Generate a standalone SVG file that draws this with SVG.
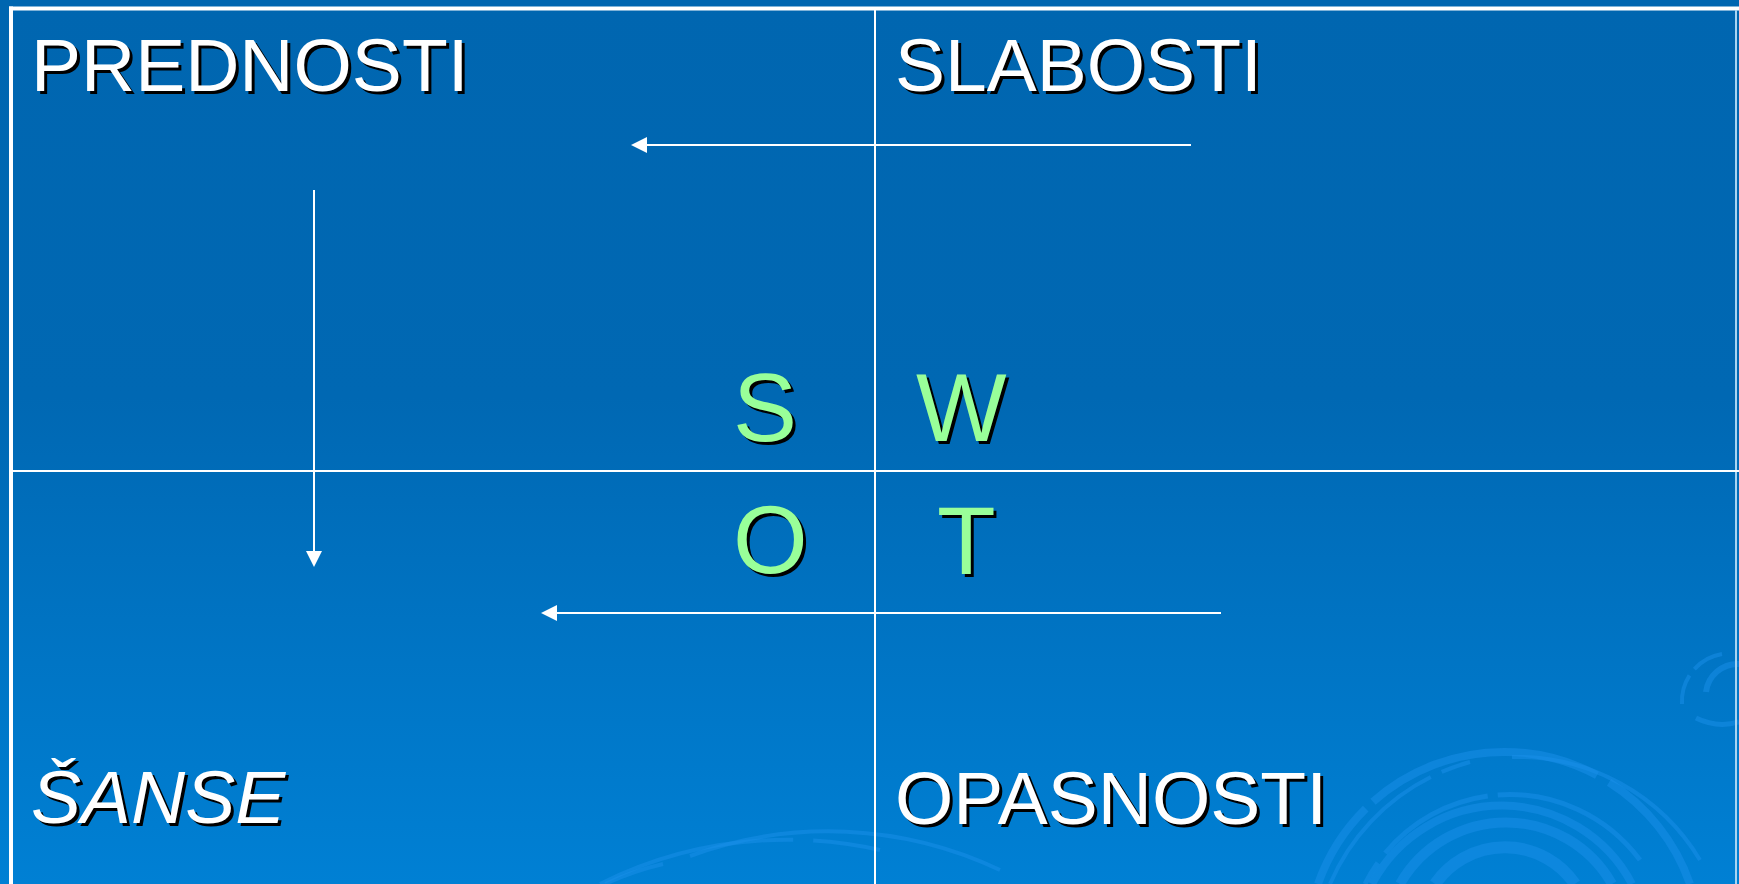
<svg xmlns="http://www.w3.org/2000/svg" width="1739" height="884" viewBox="0 0 1739 884">
  <defs>
    <linearGradient id="bg" x1="0" y1="0" x2="0" y2="1">
      <stop offset="0" stop-color="#0066B0"/>
      <stop offset="0.45" stop-color="#0068B3"/>
      <stop offset="1" stop-color="#0080D4"/>
    </linearGradient>
    <marker id="ah" viewBox="0 0 16 16" refX="0" refY="8" markerWidth="16" markerHeight="16" markerUnits="userSpaceOnUse" orient="auto">
      <path d="M0,0 L16,8 L0,16 z" fill="#FFFFFF"/>
    </marker>
    <style>
      .lbl { font-family: "Liberation Sans", Arial, sans-serif; font-size: 75px; }
      .big { font-family: "Liberation Sans", Arial, sans-serif; font-size: 96px; }
      .sh { fill: #000000; }
      .wt { fill: #FFFFFF; }
      .gr { fill: #99FF99; }
      .grid { stroke: #FFFFFF; stroke-width: 2; fill: none; }
      .conn { stroke: #FFFFFF; stroke-width: 2; fill: none; }
      .swirl { stroke: #1A8FEA; fill: none; stroke-linecap: butt; opacity: 0.5; }
    </style>
  </defs>

  <rect x="0" y="0" width="1739" height="884" fill="url(#bg)"/>

  <!-- background swirls -->
  <g id="swirls">
    <path class="swirl" stroke-width="4" d="M1330,884 A213,213 0 0 1 1470,762" stroke-dasharray="150 12 400"/>
    <path class="swirl" stroke-width="4" d="M1512,757 A213,213 0 0 1 1700,860"/>
    <path class="swirl" stroke-width="8" d="M1318,884 A197,197 0 0 1 1690,884" stroke-dasharray="90 10 240 14 400"/>
    <path class="swirl" stroke-width="5" d="M1365,884 A162,162 0 0 1 1640,860" stroke-dasharray="25 12 120 10 300"/>
    <path class="swirl" stroke-width="8" d="M1372,884 A147,147 0 0 1 1632,884"/>
    <path class="swirl" stroke-width="10" d="M1400,884 A122,122 0 0 1 1612,884"/>
    <path class="swirl" stroke-width="12" d="M1435,884 A85,85 0 0 1 1575,884"/>
    <path class="swirl" stroke-width="4" d="M1682,704 A48,48 0 0 1 1722,654" stroke-dasharray="30 8 60"/>
    <path class="swirl" stroke-width="6" d="M1706,692 A32,32 0 0 1 1739,664"/>
    <path class="swirl" stroke-width="5" d="M1696,718 A60,60 0 0 0 1739,722"/>
    <path class="swirl" stroke-width="4" d="M600,884 A420,420 0 0 1 880,850" stroke-dasharray="200 20 200"/>
    <path class="swirl" stroke-width="4" d="M690,856 A400,400 0 0 1 1000,870"/>
    <path class="swirl" stroke-width="4" d="M605,884 A300,300 0 0 1 663,864"/>
  </g>

  <!-- table grid -->
  <g id="table">
    <line x1="9" y1="8.5" x2="1739" y2="8.5" stroke="#FFFFFF" stroke-width="4"/>
    <line x1="11" y1="6.5" x2="11" y2="884" stroke="#FFFFFF" stroke-width="4"/>
    <line x1="1736" y1="10" x2="1736" y2="884" stroke="#A8D4F2" stroke-width="2"/>
    <line class="grid" x1="875" y1="10" x2="875" y2="884"/>
    <line class="grid" x1="13" y1="471" x2="1739" y2="471"/>
  </g>

  <!-- connectors -->
  <g id="connectors">
    <line class="conn" x1="1191" y1="145" x2="647" y2="145" marker-end="url(#ah)"/>
    <line class="conn" x1="314" y1="190" x2="314" y2="551" marker-end="url(#ah)"/>
    <line class="conn" x1="1221" y1="613" x2="557" y2="613" marker-end="url(#ah)"/>
  </g>

  <!-- quadrant labels -->
  <g id="node-prednosti">
    <text class="lbl sh" x="34" y="94">PREDNOSTI</text>
    <text class="lbl wt" x="31" y="91">PREDNOSTI</text>
  </g>
  <g id="node-slabosti">
    <text class="lbl sh" x="898" y="94">SLABOSTI</text>
    <text class="lbl wt" x="895" y="91">SLABOSTI</text>
  </g>
  <g id="node-sanse">
    <text class="lbl sh" x="34" y="826" font-style="italic">ŠANSE</text>
    <text class="lbl wt" x="31" y="823" font-style="italic">ŠANSE</text>
  </g>
  <g id="node-opasnosti">
    <text class="lbl sh" x="898" y="827">OPASNOSTI</text>
    <text class="lbl wt" x="895" y="824">OPASNOSTI</text>
  </g>

  <!-- SWOT letters -->
  <g id="node-s">
    <text class="big sh" x="736" y="444">S</text>
    <text class="big gr" x="733" y="441">S</text>
  </g>
  <g id="node-w">
    <text class="big sh" x="919" y="444">W</text>
    <text class="big gr" x="916" y="441">W</text>
  </g>
  <g id="node-o">
    <text class="big sh" x="736" y="576">O</text>
    <text class="big gr" x="733" y="573">O</text>
  </g>
  <g id="node-t">
    <text class="big sh" x="940" y="577">T</text>
    <text class="big gr" x="937" y="574">T</text>
  </g>
</svg>
